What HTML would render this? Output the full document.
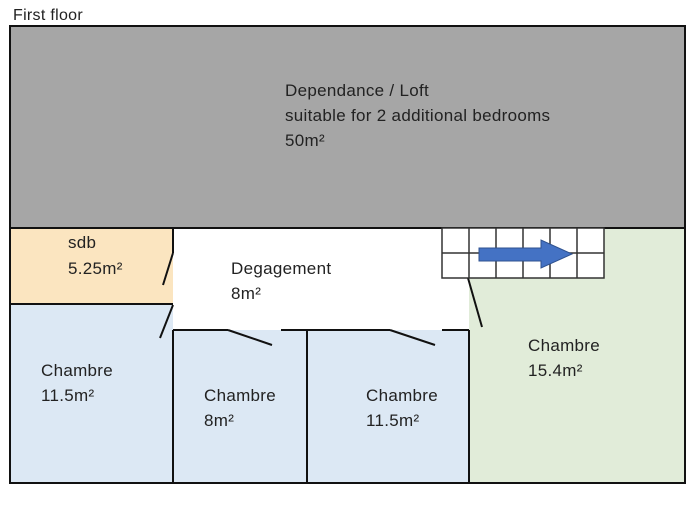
<!DOCTYPE html>
<html><head><style>
body{margin:0;background:#fff;width:697px;height:500px;overflow:hidden}
svg text{font-family:"Liberation Sans",sans-serif;font-size:17px;letter-spacing:0.3px;fill:#222}
</style></head><body>
<svg width="697" height="500" viewBox="0 0 697 500">
<text x="13" y="20" style="font-size:16px">First floor</text>
<rect x="10" y="26" width="675" height="202" fill="#a6a6a6"/>
<rect x="10" y="228" width="163" height="76" fill="#fbe5c0"/>
<rect x="10" y="304" width="163" height="179" fill="#dce8f4"/>
<rect x="173" y="330" width="296" height="153" fill="#dce8f4"/>
<rect x="469" y="228" width="216" height="255" fill="#e1ecd9"/>
<rect x="442" y="228" width="27" height="102" fill="#fff"/>
<rect x="173" y="228" width="269" height="102" fill="#fff"/>
<g stroke="#111" stroke-width="2" fill="none">
<rect x="10" y="26" width="675" height="457"/>
<line x1="10" y1="228" x2="685" y2="228"/>
<line x1="10" y1="304" x2="173" y2="304"/>
<line x1="173" y1="228" x2="173" y2="253"/>
<line x1="173" y1="253" x2="163" y2="285"/>
<line x1="173" y1="305" x2="160" y2="338"/>
<line x1="173" y1="330" x2="173" y2="483"/>
<line x1="173" y1="330" x2="228" y2="330"/>
<line x1="228" y1="330" x2="272" y2="345"/>
<line x1="281" y1="330" x2="390" y2="330"/>
<line x1="390" y1="330" x2="435" y2="345"/>
<line x1="442" y1="330" x2="469" y2="330"/>
<line x1="307" y1="330" x2="307" y2="483"/>
<line x1="469" y1="330" x2="469" y2="483"/>
<line x1="468" y1="278" x2="482" y2="327"/>
</g>
<g stroke="#333" stroke-width="1.5" fill="#fff">
<rect x="442" y="228" width="162" height="50"/>
<line x1="442" y1="253" x2="604" y2="253"/>
<line x1="469" y1="228" x2="469" y2="278"/>
<line x1="496" y1="228" x2="496" y2="278"/>
<line x1="523" y1="228" x2="523" y2="278"/>
<line x1="550" y1="228" x2="550" y2="278"/>
<line x1="577" y1="228" x2="577" y2="278"/>
</g>
<polygon points="479,248 541,248 541,240 572,254 541,268 541,261 479,261" fill="#4472c4" stroke="#2f528f" stroke-width="1"/>
<text x="285" y="96">Dependance / Loft</text>
<text x="285" y="121">suitable for 2 additional bedrooms</text>
<text x="285" y="146">50m²</text>
<text x="68" y="248">sdb</text>
<text x="68" y="274">5.25m²</text>
<text x="231" y="274">Degagement</text>
<text x="231" y="299">8m²</text>
<text x="41" y="376">Chambre</text>
<text x="41" y="401">11.5m²</text>
<text x="204" y="401">Chambre</text>
<text x="204" y="426">8m²</text>
<text x="366" y="401">Chambre</text>
<text x="366" y="426">11.5m²</text>
<text x="528" y="351">Chambre</text>
<text x="528" y="376">15.4m²</text>
</svg>
</body></html>
